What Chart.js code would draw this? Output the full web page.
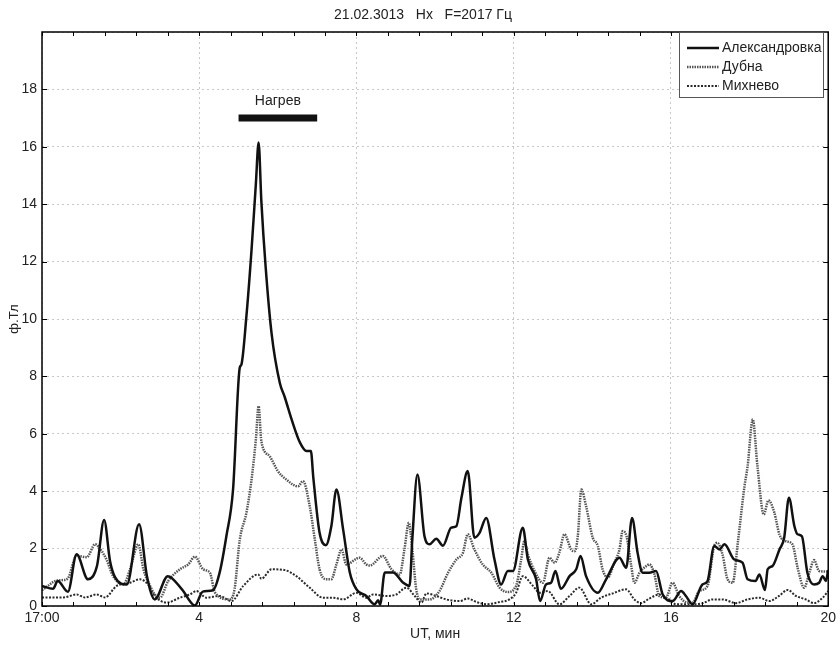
<!DOCTYPE html>
<html>
<head>
<meta charset="utf-8">
<script src="https://cdn.jsdelivr.net/npm/chart.js@4.4.1/dist/chart.umd.min.js"></script>
<style>
  html, body { margin: 0; padding: 0; background: #fff; }
  #wrap { width: 840px; height: 647px; }
</style>
</head>
<body>
<div id="wrap"><canvas id="hxChart" width="840" height="647"></canvas></div>
<script>
// time in minutes after 17:00 UT, amplitude in fT
const alexT = [0, 0.28, 0.4, 0.66, 0.88, 1.17, 1.4, 1.58, 1.73, 1.86, 2.16, 2.47, 2.67, 2.87, 3.2, 3.56, 3.89, 4.09, 4.35, 4.52, 4.69, 4.86, 5.03, 5.07, 5.2, 5.33, 5.44, 5.51, 5.58, 5.69, 5.84, 6.05, 6.17, 6.35, 6.56, 6.73, 6.84, 6.9, 7.06, 7.22, 7.36, 7.49, 7.66, 7.83, 8.0, 8.25, 8.46, 8.55, 8.6, 8.72, 8.93, 9.18, 9.35, 9.42, 9.55, 9.73, 9.86, 10.03, 10.2, 10.41, 10.54, 10.67, 10.83, 11.0, 11.13, 11.3, 11.51, 11.68, 11.85, 11.98, 12.23, 12.36, 12.57, 12.67, 12.82, 12.95, 13.06, 13.2, 13.42, 13.59, 13.7, 13.84, 14.14, 14.35, 14.69, 14.86, 15.01, 15.15, 15.28, 15.45, 15.62, 15.79, 16.04, 16.26, 16.38, 16.55, 16.8, 16.93, 17.1, 17.23, 17.36, 17.61, 17.82, 17.95, 18.15, 18.25, 18.39, 18.46, 18.58, 18.76, 18.88, 19.0, 19.14, 19.22, 19.33, 19.47, 19.64, 19.77, 19.86, 19.94, 20];
const alexV = [0.7, 0.6, 0.87, 0.5, 1.8, 0.93, 1.4, 3.0, 1.57, 1.0, 0.75, 2.85, 1.04, 0.23, 1.04, 0.58, 0.02, 0.5, 0.55, 1.17, 2.43, 4.06, 8.3, 8.4, 10.1, 12.4, 14.7, 16.15, 14.1, 11.8, 9.5, 7.77, 7.3, 6.5, 5.7, 5.4, 5.4, 4.5, 2.56, 2.12, 2.78, 4.06, 2.67, 1.17, 0.58, 0.35, 0.06, 0.2, 0.05, 1.17, 1.17, 0.82, 0.7, 2.32, 4.58, 2.43, 2.15, 2.34, 2.1, 2.73, 2.78, 3.77, 4.7, 2.38, 2.55, 3.07, 1.62, 0.75, 1.22, 1.22, 2.73, 1.62, 0.93, 0.17, 0.75, 0.81, 1.22, 0.6, 1.04, 1.28, 1.74, 1.04, 0.46, 0.93, 1.68, 1.33, 3.07, 1.86, 1.16, 1.16, 1.22, 0.4, 0.17, 0.52, 0.35, 0.06, 0.75, 0.87, 2.09, 1.97, 2.15, 1.62, 1.51, 0.93, 0.87, 1.1, 0.56, 1.28, 1.39, 1.97, 2.38, 3.77, 2.78, 2.5, 2.43, 1.16, 0.75, 0.81, 1.04, 0.87, 1.25];

const dubnaT = [0, 0.15, 0.3, 0.5, 0.65, 0.88, 1.14, 1.35, 1.52, 1.64, 1.81, 2.07, 2.24, 2.45, 2.58, 2.75, 2.87, 3.0, 3.21, 3.51, 3.72, 3.89, 4.1, 4.27, 4.4, 4.78, 4.9, 5.03, 5.2, 5.33, 5.44, 5.51, 5.58, 5.79, 6.0, 6.22, 6.51, 6.64, 6.81, 6.94, 7.06, 7.24, 7.36, 7.49, 7.62, 7.74, 8.08, 8.25, 8.34, 8.67, 8.89, 9.1, 9.22, 9.33, 9.42, 9.52, 9.61, 9.86, 10.11, 10.33, 10.54, 10.71, 10.83, 11.0, 11.21, 11.43, 11.64, 11.85, 12.06, 12.19, 12.27, 12.36, 12.53, 12.74, 12.91, 13.04, 13.16, 13.29, 13.46, 13.55, 13.63, 13.72, 13.84, 14.01, 14.14, 14.26, 14.39, 14.56, 14.69, 14.77, 14.87, 14.99, 15.07, 15.2, 15.37, 15.45, 15.58, 15.7, 15.87, 16.04, 16.21, 16.42, 16.55, 16.72, 16.93, 17.1, 17.18, 17.31, 17.44, 17.57, 17.7, 17.87, 17.95, 18.08, 18.2, 18.36, 18.48, 18.63, 18.76, 18.92, 19.09, 19.22, 19.39, 19.52, 19.64, 19.77, 20];
const dubnaV = [0.55, 0.7, 0.85, 0.9, 0.95, 1.75, 1.7, 2.15, 1.91, 1.62, 1.04, 0.75, 1.28, 2.15, 1.28, 0.7, 0.4, 0.29, 0.87, 1.28, 1.45, 1.72, 1.28, 1.16, 0.47, 0.23, 0.6, 2.3, 3.25, 4.4, 5.8, 6.96, 5.74, 5.22, 4.7, 4.4, 4.17, 4.35, 3.48, 2.32, 1.28, 0.93, 0.93, 1.45, 1.97, 1.45, 1.68, 1.45, 1.41, 1.74, 1.28, 1.1, 1.97, 2.9, 1.97, 0.58, 0.23, 0.23, 0.52, 1.16, 1.62, 1.86, 2.5, 1.97, 1.45, 1.16, 0.64, 0.49, 0.7, 1.62, 2.26, 1.8, 1.22, 0.81, 1.68, 1.51, 1.86, 2.5, 1.97, 1.91, 2.43, 4.06, 3.48, 2.38, 2.09, 1.28, 0.99, 1.51, 1.97, 2.61, 2.43, 1.39, 0.81, 1.16, 1.39, 1.45, 1.1, 0.35, 0.29, 0.81, 0.35, 0.12, 0.12, 0.52, 0.7, 2.09, 2.2, 1.8, 0.93, 0.81, 2.2, 4.17, 4.87, 6.5, 4.87, 3.19, 3.68, 3.25, 2.49, 2.26, 2.15, 1.34, 0.64, 1.16, 1.6, 1.22, 1.2];

const mikhT = [0, 0.54, 0.88, 1.09, 1.39, 1.6, 1.9, 2.24, 2.49, 2.7, 2.87, 3.17, 3.51, 3.76, 3.93, 4.18, 4.52, 4.82, 5.12, 5.5, 5.58, 5.84, 6.18, 6.47, 6.81, 7.15, 7.4, 7.66, 8.0, 8.25, 8.42, 8.76, 9.01, 9.27, 9.48, 9.65, 9.78, 10.03, 10.28, 10.62, 10.83, 11.05, 11.3, 11.64, 11.89, 12.06, 12.23, 12.49, 12.66, 12.87, 13.16, 13.42, 13.67, 13.97, 14.22, 14.52, 14.86, 15.07, 15.24, 15.45, 15.7, 15.95, 16.13, 16.55, 16.81, 17.06, 17.31, 17.65, 17.95, 18.25, 18.5, 18.75, 18.97, 19.18, 19.43, 19.64, 19.86, 20];
const mikhV = [0.3, 0.3, 0.4, 0.3, 0.4, 0.3, 0.7, 0.81, 0.93, 0.75, 0.35, 0.12, 0.29, 0.4, 0.52, 0.29, 0.35, 0.17, 0.7, 1.1, 0.95, 1.28, 1.25, 1.04, 0.64, 0.29, 0.29, 0.23, 0.46, 0.29, 0.4, 0.35, 0.4, 0.64, 0.35, 0.12, 0.44, 0.35, 0.23, 0.17, 0.26, 0.14, 0.06, 0.14, 0.23, 0.46, 1.04, 0.7, 0.46, 0.52, 0.06, 0.35, 0.64, 0.06, 0.29, 0.44, 0.58, 0.23, 0.1, 0.26, 0.4, 0.23, 0.06, 0.06, 0.1, 0.23, 0.23, 0.1, 0.23, 0.29, 0.17, 0.35, 0.56, 0.35, 0.23, 0.1, 0.29, 0.52];

// heating interval and the level its bar is drawn at
const heatT = [5, 7];
const heatLevel = 17;
const heatLabel = 'Нагрев';

const xTicks = [0, 4, 8, 12, 16, 20];
const xMinorStep = 0.8;
const yTicks = [0, 2, 4, 6, 8, 10, 12, 14, 16, 18];

const FONT = '"Liberation Sans", Arial, sans-serif';

function toPoints(ts, vs) {
    return ts.map((t, i) => ({ x: t, y: vs[i] }));
}

// box, inward ticks, legend and the heating caption
const framePlugin = {
    id: 'framePlugin',
    afterDatasetsDraw(chart) {
        const { ctx, chartArea: a, scales: { x, y } } = chart;
        ctx.save();
        ctx.setLineDash([]);
        ctx.strokeStyle = '#000';
        ctx.lineWidth = 1;

        // x ticks, top and bottom
        ctx.beginPath();
        for (let v = 0; v <= 20.001; v += xMinorStep) {
            const px = Math.round(x.getPixelForValue(v)) + 0.5;
            ctx.moveTo(px, a.bottom); ctx.lineTo(px, a.bottom - 4);
            ctx.moveTo(px, a.top); ctx.lineTo(px, a.top + 4);
        }
        // y ticks, left and right
        yTicks.forEach(v => {
            const py = Math.round(y.getPixelForValue(v)) + 0.5;
            ctx.moveTo(a.left, py); ctx.lineTo(a.left + 5, py);
            ctx.moveTo(a.right, py); ctx.lineTo(a.right - 5, py);
        });
        ctx.stroke();

        ctx.lineWidth = 1.5;
        ctx.strokeRect(a.left, a.top, a.right - a.left, a.bottom - a.top);

        // heating caption
        ctx.fillStyle = '#222';
        ctx.font = '14px ' + FONT;
        ctx.textAlign = 'center';
        ctx.textBaseline = 'middle';
        ctx.fillText(heatLabel, x.getPixelForValue((heatT[0] + heatT[1]) / 2), y.getPixelForValue(17.6));

        // legend box
        const lx = 679, ly = 32, lw = 144, lh = 65;
        ctx.fillStyle = '#fff';
        ctx.fillRect(lx, ly, lw, lh);
        ctx.lineWidth = 1;
        ctx.strokeStyle = '#555';
        ctx.strokeRect(lx + 0.5, ly + 0.5, lw, lh);
        ctx.textAlign = 'left';
        ctx.fillStyle = '#222';
        chart.data.datasets.filter(d => !d.hideInLegend).forEach((d, i) => {
            const ry = ly + 16 + i * 19;
            ctx.beginPath();
            ctx.strokeStyle = d.borderColor;
            ctx.lineWidth = d.borderWidth;
            ctx.setLineDash(d.borderDash || []);
            ctx.moveTo(lx + 8, ry);
            ctx.lineTo(lx + 40, ry);
            ctx.stroke();
            ctx.setLineDash([]);
            ctx.fillText(d.label, lx + 43, ry);
        });
        ctx.restore();
    }
};

const data = {
    datasets: [
        {
            label: 'Александровка',
            data: toPoints(alexT, alexV),
            borderColor: '#111',
            borderWidth: 2.5,
            cubicInterpolationMode: 'monotone'
        },
        {
            label: 'Дубна',
            data: toPoints(dubnaT, dubnaV),
            borderColor: '#555',
            borderWidth: 2.5,
            borderDash: [1.5, 1],
            cubicInterpolationMode: 'monotone'
        },
        {
            label: 'Михнево',
            data: toPoints(mikhT, mikhV),
            borderColor: '#2a2a2a',
            borderWidth: 2,
            borderDash: [2, 1.5],
            cubicInterpolationMode: 'monotone'
        },
        {
            label: heatLabel,
            hideInLegend: true,
            data: heatT.map(t => ({ x: t, y: heatLevel })),
            borderColor: '#111',
            borderWidth: 7,
            borderDash: [],
            borderCapStyle: 'butt',
            tension: 0
        }
    ]
};

new Chart(document.getElementById('hxChart'), {
    type: 'line',
    data: data,
    options: {
        responsive: false,
        animation: false,
        events: [],
        elements: { point: { radius: 0 } },
        layout: { padding: { top: 32, right: 11, left: 0, bottom: 0 } },
        plugins: {
            legend: { display: false },
            tooltip: { enabled: false },
            title: { display: false }
        },
        scales: {
            x: {
                type: 'linear',
                min: 0,
                max: 20,
                afterFit: s => { s.height = 41; },
                afterBuildTicks: s => { s.ticks = xTicks.map(v => ({ value: v })); },
                grid: { color: '#c8c8c8', drawTicks: false },
                border: { display: false, dash: [2, 3] },
                ticks: {
                    padding: 4,
                    color: '#222',
                    font: { family: FONT, size: 14 },
                    callback: v => (v === 0 ? '17:00' : String(v))
                },
                title: {
                    display: true,
                    text: 'UT, мин',
                    color: '#222',
                    font: { family: FONT, size: 14 },
                    padding: { top: 0, bottom: 4 }
                }
            },
            y: {
                min: 0,
                max: 20,
                afterFit: s => { s.width = 42; },
                afterBuildTicks: s => { s.ticks = yTicks.concat([20]).map(v => ({ value: v })); },
                grid: { color: '#c8c8c8', drawTicks: false },
                border: { display: false, dash: [2, 3] },
                ticks: {
                    padding: 5,
                    color: '#222',
                    font: { family: FONT, size: 14 },
                    callback: v => (v === 20 ? '' : String(v))
                },
                title: {
                    display: true,
                    text: 'ф.Тл',
                    color: '#222',
                    font: { family: FONT, size: 13 },
                    padding: { top: 7, bottom: 0 }
                }
            }
        }
    },
    plugins: [framePlugin, {
        id: 'topTitle',
        afterDraw(chart) {
            const ctx = chart.ctx;
            ctx.save();
            ctx.fillStyle = '#222';
            ctx.font = '14px ' + FONT;
            ctx.textAlign = 'center';
            ctx.textBaseline = 'middle';
            ctx.fillText('21.02.3013   Hx   F=2017 Гц', 423, 15);
            ctx.restore();
        }
    }]
});
</script>
</body>
</html>
